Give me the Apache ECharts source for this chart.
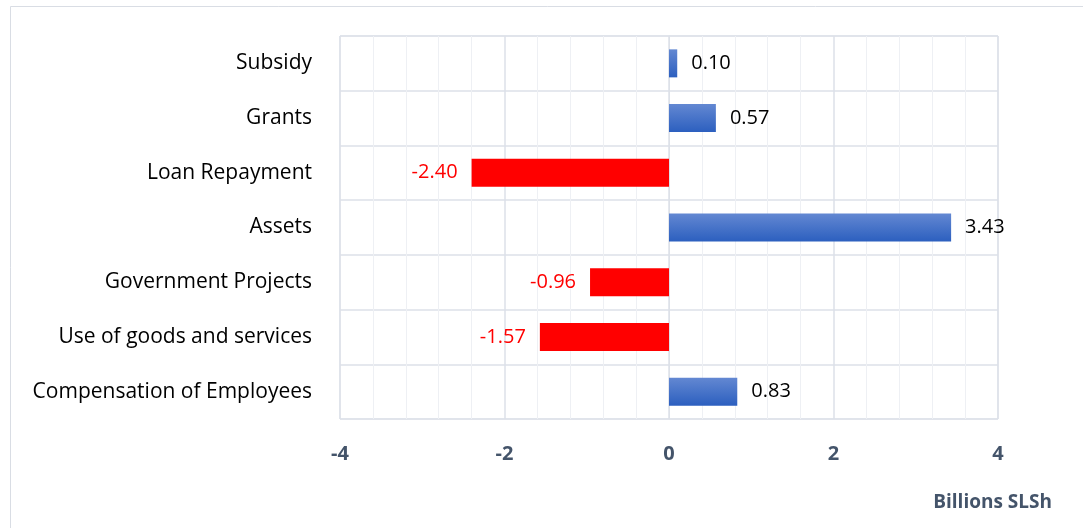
<!DOCTYPE html>
<html>
<head>
<meta charset="utf-8">
<script src="https://cdn.jsdelivr.net/npm/echarts@6/dist/echarts.min.js"></script>
<style>
  html, body { margin: 0; padding: 0; background: #fff; }
  #main { width: 1083px; height: 528px; }
</style>
</head>
<body>
<div id="main"></div>
<script>
// categories listed bottom to top (category axis starts at the bottom)
const categories = ['Compensation of Employees', 'Use of goods and services', 'Government Projects', 'Assets', 'Loan Repayment', 'Grants', 'Subsidy'];
const values = [0.83, -1.57, -0.96, 3.43, -2.40, 0.57, 0.10];
const xTicks = [-4, -2, 0, 2, 4];

const font = 'Open Sans';
const blueGrad = new echarts.graphic.LinearGradient(0, 0, 0, 1, [
    { offset: 0, color: '#6388d2' },
    { offset: 1, color: '#2c5fbf' }
]);

// colour and label side depend on sign
const barData = values.map(v => ({
    value: v,
    itemStyle: { color: v < 0 ? '#ff0000' : blueGrad },
    label: {
        position: v < 0 ? 'left' : 'right',
        color: v < 0 ? '#ff0000' : '#000000'
    }
}));

const chart = echarts.init(document.getElementById('main'));
chart.setOption({
    animation: false,
    title: {
        text: 'Billions SLSh',
        right: 26,
        top: 488,
        textStyle: { fontFamily: font, fontSize: 19, fontWeight: 'bold', color: '#44546a' }
    },
    graphic: [{
        type: 'rect',
        shape: { x: 10.5, y: 6.5, width: 1100, height: 600 },
        style: { fill: 'none', stroke: '#d9dde4', lineWidth: 1 },
        silent: true
    }],
    grid: {
        left: 340, right: 85, top: 36, bottom: 109,
        show: true, borderColor: '#dde1e8', borderWidth: 1
    },
    xAxis: {
        type: 'value',
        min: xTicks[0],
        max: xTicks[xTicks.length - 1],
        interval: 2,
        axisLine: { show: false },
        axisTick: { show: false },
        axisLabel: {
            margin: 25,
            fontFamily: font, fontSize: 20, fontWeight: 'bold', color: '#44546a'
        },
        splitLine: { lineStyle: { color: '#dde1e8', width: 1.5 } },
        minorTick: { show: false, splitNumber: 5 },
        minorSplitLine: { show: true, lineStyle: { color: '#eef0f4', width: 1 } }
    },
    yAxis: {
        type: 'category',
        data: categories,
        axisLine: { lineStyle: { color: '#dde1e8' } },
        axisTick: { show: false },
        axisLabel: { margin: 28, fontFamily: font, fontSize: 21, color: '#000' },
        splitLine: { show: true, lineStyle: { color: '#dde1e8', width: 1.5 } }
    },
    series: [{
        type: 'bar',
        data: barData,
        barWidth: 28,
        label: {
            show: true,
            distance: 14,
            fontFamily: font,
            fontSize: 20,
            formatter: p => p.value.toFixed(2)
        }
    }]
});
</script>
</body>
</html>
